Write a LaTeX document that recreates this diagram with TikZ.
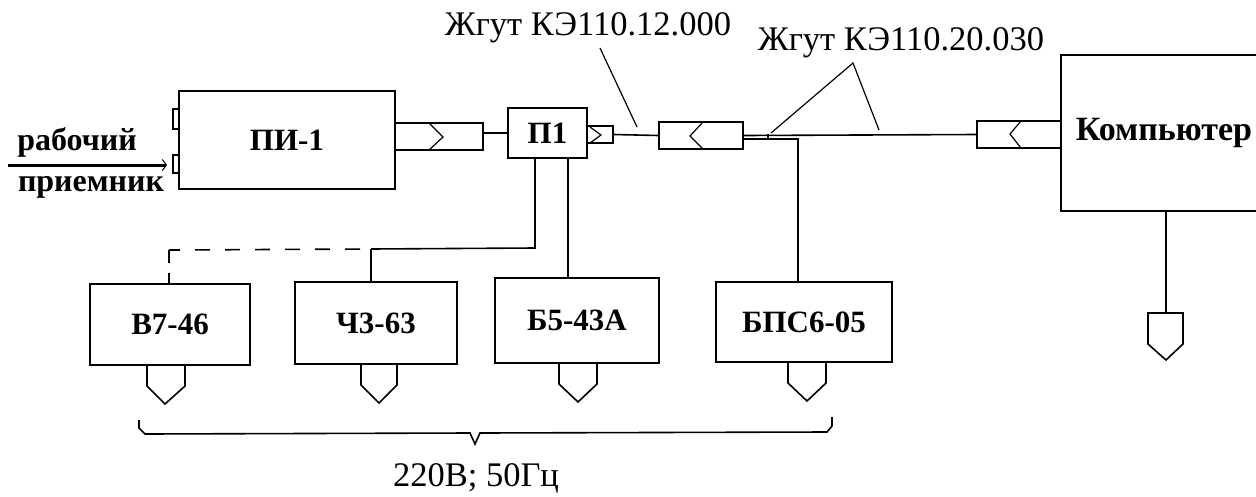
\documentclass[tikz,border=0pt]{standalone}
\usepackage{fontspec}
\setmainfont{Liberation Serif}
\usetikzlibrary{arrows.meta}
\tikzset{
  block/.style={draw, line width=1.6pt, inner sep=0pt, font=\fontsize{31}{34}\selectfont\bfseries},
  socket/.style={draw, line width=1.6pt, inner sep=0pt},
  wire/.style={line width=1.6pt},
  thin wire/.style={line width=1.2pt},
  caption/.style={inner sep=0pt, font=\fontsize{34.5}{38}\selectfont},
  small caption/.style={inner sep=0pt, font=\fontsize{32}{35}\selectfont\bfseries},
}
\begin{document}
\begin{tikzpicture}[x=1pt, y=-1pt]
      \useasboundingbox (0,0) rectangle (1256,496);
      \node (pi)[block, minimum width=216pt, minimum height=98pt] at (287,140) {ПИ-1};
      \node (p1)[block, minimum width=79pt, minimum height=50pt] at (547.5,133) {П1};
      \node (pc)[block, font=\fontsize{34}{37}\selectfont\bfseries, minimum width=206pt, minimum height=156pt] at (1164,133) {Компьютер};
      \node (v7)[block, minimum width=160pt, minimum height=81pt] at (170,324.5) {В7-46};
      \node (ch3)[block, minimum width=162pt, minimum height=82pt] at (376,323) {Ч3-63};
      \node (b5)[block, minimum width=164pt, minimum height=85pt] at (577,320.5) {Б5-43А};
      \node (bps)[block, minimum width=176pt, minimum height=80pt] at (804,322) {БПС6-05};
      \node (tab1)[socket, minimum width=6pt, minimum height=20pt] at (176,119) {};
      \node (tab2)[socket, minimum width=6pt, minimum height=18pt] at (176,164) {};
      \node (con1)[socket, minimum width=88pt, minimum height=27pt] at (439,136.5) {};
      \node (con2)[socket, minimum width=26pt, minimum height=17pt] at (600,134.5) {};
      \node (con3)[socket, minimum width=84pt, minimum height=27pt] at (701,135.5) {};
      \node (con4)[socket, minimum width=84pt, minimum height=27pt] at (1019,134.5) {};
      \node (work)[small caption] at (77,142) {рабочий};
      \node (recv)[small caption] at (91,187) {приемник};
      \node (harn1)[caption] at (588,28) {Жгут КЭ110.12.000};
      \node (harn2)[caption] at (901,43) {Жгут КЭ110.20.030};
      \node (power)[caption] at (476,478) {220В; 50Гц};
      \coordinate (inl) at (8,165);
      \coordinate (inr) at (167,165);
      \coordinate (j1) at (535,248);
      \coordinate (j2) at (371,249);
      \coordinate (c1) at (169,250);
      \coordinate (s1) at (568,158);
      \coordinate (s2) at (798,139);
      \coordinate (n1) at (600,48);
      \coordinate (n2) at (637,127);
      \coordinate (n3) at (771,133);
      \coordinate (n4) at (853,63);
      \coordinate (n5) at (879,130);
      \coordinate (plug) at (1166,313);
      % input arrow
      \draw[line width=3pt, -{Straight Barb[length=4pt, width=11pt, line width=1pt]}] (inl) -- (inr);
      % line from block to block
      \draw[wire] (con1.east |- p1.west) -- (p1.west);
      \draw[wire] (con2.east) -- (con3.west);
      \draw[wire] (con3.east) -- (con4.west);
      \draw[wire] (con3.east |- s2) -- (s2) -- (bps.north -| s2);
      \draw[wire] (j1 |- p1.south) -- (j1) -- (j2);
      \draw[wire] (j2) -- (j2 |- ch3.north);
      \draw[wire] (s1) -- (b5.north -| s1);
      \draw[wire, dash pattern=on 15pt off 15pt, dash phase=4pt] (c1) -- (j2);
      \draw[wire, dash pattern=on 13pt off 10pt] (c1) -- (c1 |- v7.north);
      \draw[wire] (pc.south -| plug) -- (plug);
      % leaders
      \draw[thin wire] (n1) -- (n2);
      \draw[thin wire] (n3) -- (n4) -- (n5);
      \draw[thin wire] (768,134) -- (768,139);
      % chevrons
      \draw[thin wire] (429,123) -- (443,137) -- (429,150);
      \draw[thin wire] (590,127) -- (601,135) -- (590,143);
      \draw[thin wire] (703,122) -- (690,136) -- (703,149);
      \draw[thin wire] (1021,121) -- (1010,134) -- (1021,148);
      % plugs
      \draw[wire] (147,365) -- (147,386) -- (165,404) -- (185,386) -- (185,365);
      \draw[wire] (361,364) -- (361,385) -- (379,403) -- (397,385) -- (397,364);
      \draw[wire] (559,363) -- (559,384) -- (578,402) -- (597,384) -- (597,363);
      \draw[wire] (788,362) -- (788,383) -- (807,401) -- (826,383) -- (826,362);
      \draw[wire] (1148,344) -- (1148,313) -- (1183,313) -- (1183,344) -- (1166,360) -- cycle;
      % brace
      \draw[wire] (139,420) -- (139,428) -- (145,434) -- (470,433) -- (475,444) -- (480,433) -- (827,432) -- (832,426) -- (832,417);
\end{tikzpicture}
\end{document}
